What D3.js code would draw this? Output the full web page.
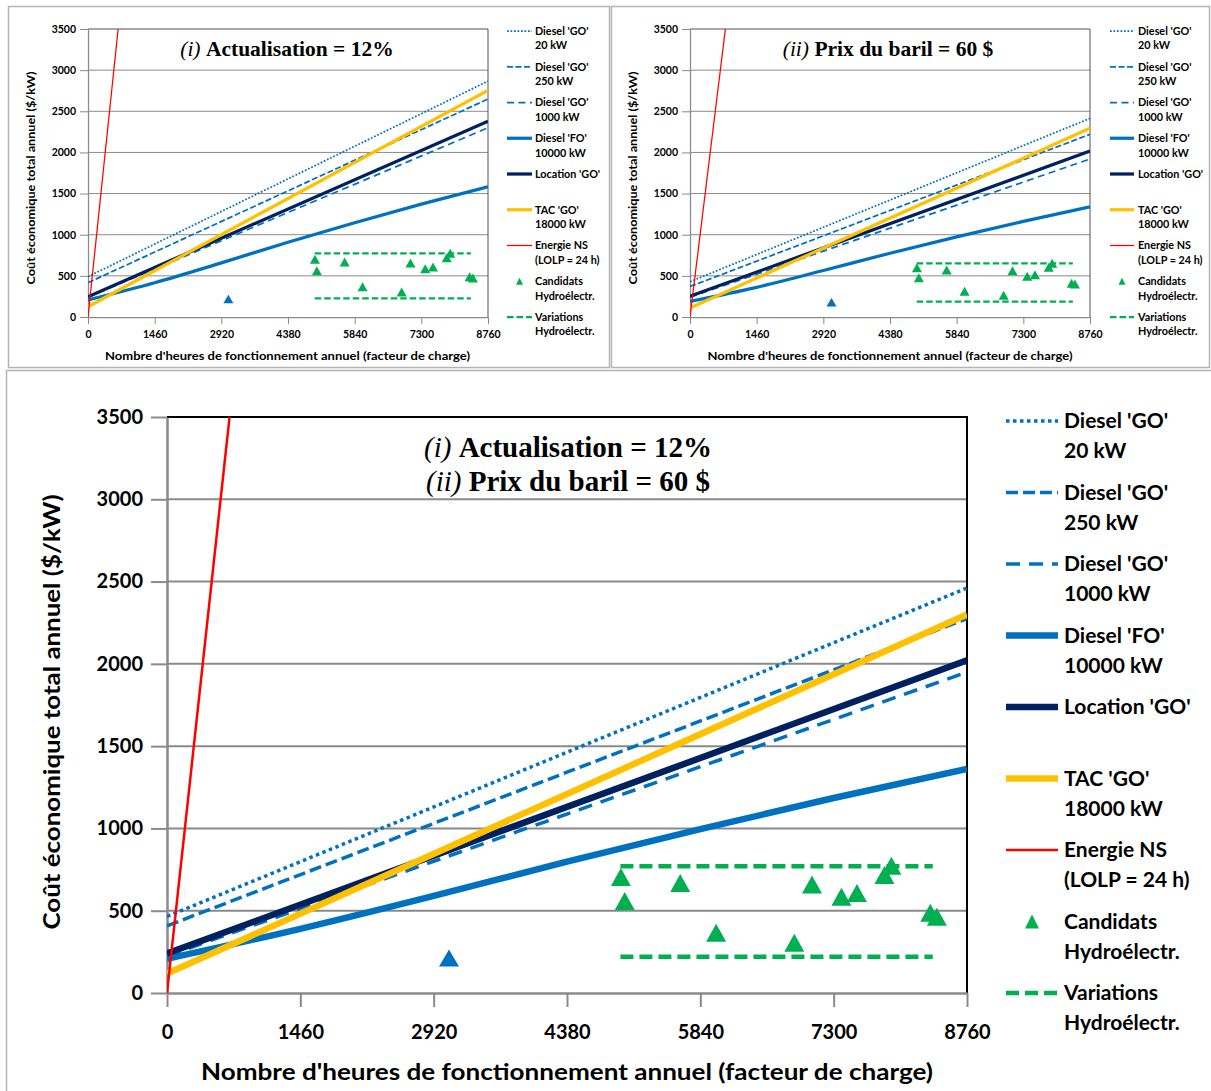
<!DOCTYPE html>
<html><head><meta charset="utf-8">
<script src="https://cdn.jsdelivr.net/npm/d3@7"></script>
<style>body{margin:0;background:#fff}svg{display:block}</style>
</head><body>
<svg id="c" width="1211" height="1091"></svg>
<script>
// ---------- shared categories / ticks ----------
const xTicks = [0, 1460, 2920, 4380, 5840, 7300, 8760];
const yTicks = [0, 500, 1000, 1500, 2000, 2500, 3000, 3500];
const lineHours = [0, 8760];
const legendLabels = [
  ["Diesel 'GO'", "20 kW"], ["Diesel 'GO'", "250 kW"], ["Diesel 'GO'", "1000 kW"],
  ["Diesel 'FO'", "10000 kW"], ["Location 'GO'"], ["TAC 'GO'", "18000 kW"],
  ["Energie NS", "(LOLP = 24 h)"], ["Candidats", "Hydroélectr."], ["Variations", "Hydroélectr."]
];
const xTitle = "Nombre d'heures de fonctionnement annuel (facteur de charge)";
const yTitle = "Coût économique total annuel ($/kW)";
const hydroHours = [4970, 5012, 5620, 6013, 6869, 7063, 7385, 7555, 7856, 7932, 8358, 8430];
const variationHours = [4965, 8385];

// ---------- panel (i) Actualisation = 12% ----------
const iDiesel20 = [490, 2867];
const iDiesel250 = [417, 2649];
const iDiesel1000 = [240, 2300];
const iDieselFO = [207, 416, 658, 909, 1145, 1371, 1583];
const iLocation = [247, 2378];
const iTAC = [125, 2754];
const iEnergieNSHours = [0, 660];
const iEnergieNS = [0, 3500];
const iHydro = [701, 563, 668, 368, 304, 656, 587, 608, 721, 774, 490, 474];
const iVariations = [227, 774];
const iBluePoint = [3074, 219];

// ---------- panel (ii) Prix du baril = 60 $ ----------
const iiDiesel20 = [429, 2414];
const iiDiesel250 = [370, 2220];
const iiDiesel1000 = [240, 1920];
const iiDieselFO = [190, 361, 565, 775, 973, 1162, 1340];
const iiLocation = [252, 2017];
const iiTAC = [110, 2293];
const iiEnergieNSHours = [0, 775];
const iiEnergieNS = [0, 3500];
const iiHydro = [599, 478, 571, 312, 264, 563, 494, 514, 604, 652, 409, 401];
const iiVariations = [186, 652];
const iiBluePoint = [3099, 179];

// ---------- panel (i)+(ii) ----------
const bDiesel20 = [465, 2461];
const bDiesel250 = [408, 2275];
const bDiesel1000 = [225, 1950];
const bDieselFO = [208, 390, 590, 798, 996, 1185, 1362];
const bLocation = [240, 2022];
const bTAC = [118, 2300];
const bEnergieNSHours = [0, 685];
const bEnergieNS = [0, 3500];
const bHydro = [705, 559, 668, 366, 306, 660, 585, 607, 717, 773, 488, 464];
const bVariations = [220, 770];
const bBluePoint = [3088, 213];

const COL = {blue: "#0070C0", navy: "#002060", orange: "#FFC000", red: "#FF0000", green: "#00B050"};

const svg = d3.select("#c");

function drawPanel(P, D) {
  const k = P.k;
  const x = d3.scaleLinear().domain([0, 8760]).range([P.left, P.right]);
  const y = d3.scaleLinear().domain([0, 3500]).range([P.bottom, P.top]);
  const g = svg.append("g");

  // frame
  g.append("rect").attr("x", P.frame[0]).attr("y", P.frame[1]).attr("width", P.frame[2]).attr("height", P.frame[3])
    .attr("fill", "none").attr("stroke", "#b4b4b4").attr("stroke-width", 1.5);

  // gridlines
  g.selectAll(".grid").data(yTicks.filter(t => t > 0 && t < 3500)).join("line")
    .attr("x1", P.left).attr("x2", P.right).attr("y1", d => y(d)).attr("y2", d => y(d))
    .attr("stroke", "#8a8a8a").attr("stroke-width", 2 * k);
  // top & right border
  g.append("path").attr("d", `M${P.left},${P.top}H${P.right}V${P.bottom}`)
    .attr("fill", "none").attr("stroke", P.borderCol).attr("stroke-width", 2 * k);

  // axes
  const fmt = d3.format("d");
  const ya = g.append("g").attr("transform", `translate(${P.left},0)`)
    .call(d3.axisLeft(y).tickValues(yTicks).tickFormat(fmt).tickSize(16 * k).tickPadding(P.yPad).tickSizeOuter(0));
  const xa = g.append("g").attr("transform", `translate(0,${P.bottom})`)
    .call(d3.axisBottom(x).tickValues(xTicks).tickFormat(fmt).tickSize(14 * k).tickPadding(P.xPad).tickSizeOuter(0));
  [ya, xa].forEach(a => {
    a.select(".domain").attr("stroke", "#8a8a8a").attr("stroke-width", 2.5 * k);
    a.selectAll(".tick line").attr("stroke", "#8a8a8a").attr("stroke-width", 2 * k);
    a.selectAll(".tick text").attr("font-family", "Lato, 'Open Sans', sans-serif")
      .attr("font-weight", "bold").attr("font-size", P.tickFont).attr("fill", "#000");
  });

  // axis titles
  g.append("text").attr("x", P.xTitle[0]).attr("y", P.xTitle[1]).attr("dy", "0.35em")
    .attr("text-anchor", "middle").attr("font-family", "Lato, sans-serif").attr("font-weight", "bold")
    .attr("font-size", P.titleFont).attr("textLength", P.xTitle[2]).attr("lengthAdjust", "spacingAndGlyphs")
    .text(xTitle);
  g.append("text").attr("transform", `translate(${P.yTitle[0]},${P.yTitle[1]}) rotate(-90)`).attr("dy", "0.35em")
    .attr("text-anchor", "middle").attr("font-family", "Lato, sans-serif").attr("font-weight", "bold")
    .attr("font-size", P.titleFont).attr("textLength", P.yTitle[2]).attr("lengthAdjust", "spacingAndGlyphs")
    .text(yTitle);

  // chart title(s)
  P.titles.forEach((t, i) => {
    const tx = g.append("text").attr("x", P.titlePos[0]).attr("y", P.titlePos[1] + i * P.titleStep).attr("dy", "0.35em")
      .attr("text-anchor", "middle").attr("font-family", "'Liberation Serif', 'Times New Roman', serif")
      .attr("font-size", P.chartTitleFont).attr("fill", "#000");
    tx.append("tspan").attr("font-style", "italic").text(t[0]);
    tx.append("tspan").attr("font-weight", "bold").text(t[1]);
  });

  // clip
  const cid = "clip" + P.id;
  svg.append("clipPath").attr("id", cid).append("rect")
    .attr("x", P.left).attr("y", P.top).attr("width", P.right - P.left).attr("height", P.bottom - P.top);
  const plot = g.append("g").attr("clip-path", `url(#${cid})`);

  const styles = [
    {c: COL.blue, w: 3.5 * k, dash: `${3.5 * k},${3.5 * k}`},
    {c: COL.blue, w: 3.5 * k, dash: `${12 * k},${5 * k}`},
    {c: COL.blue, w: 3.5 * k, dash: `${14 * k},${9 * k}`},
    {c: COL.blue, w: 6.5 * k, dash: null},
    {c: COL.navy, w: 6.5 * k, dash: null},
    {c: COL.orange, w: 6.5 * k, dash: null},
    {c: COL.red, w: 2.5 * k, dash: null},
    null,
    {c: COL.green, w: 4.5 * k, dash: `${13 * k},${6 * k}`}
  ];

  const line = d3.line().x(d => x(d[0])).y(d => y(d[1]));
  const smooth = d3.line().x(d => x(d[0])).y(d => y(d[1])).curve(d3.curveMonotoneX);
  const lineSeries = [
    d3.zip(lineHours, D.diesel20), d3.zip(lineHours, D.diesel250), d3.zip(lineHours, D.diesel1000),
    d3.zip(xTicks, D.dieselFO), d3.zip(lineHours, D.location), d3.zip(lineHours, D.tac),
    d3.zip(D.nsHours, D.ns)
  ];
  lineSeries.forEach((pts, i) => {
    const s = styles[i];
    plot.append("path").attr("d", i === 3 ? smooth(pts) : line(pts)).attr("fill", "none").attr("stroke", s.c)
      .attr("stroke-width", s.w).attr("stroke-dasharray", s.dash);
  });

  const tri = (w, h) => `M0,${-h / 2}L${w / 2},${h / 2}L${-w / 2},${h / 2}Z`;
  // blue point
  plot.append("path").attr("d", tri(20 * k, 17 * k))
    .attr("transform", `translate(${x(D.blue[0])},${y(D.blue[1])})`).attr("fill", COL.blue);
  // hydro candidates
  plot.selectAll(".hyd").data(d3.zip(hydroHours, D.hydro)).join("path")
    .attr("d", tri(20 * k, 18 * k)).attr("transform", d => `translate(${x(d[0])},${y(d[1])})`)
    .attr("fill", COL.green);
  // variations
  D.variations.forEach(v => {
    plot.append("path").attr("d", line(variationHours.map(h => [h, v]))).attr("fill", "none")
      .attr("stroke", COL.green).attr("stroke-width", styles[8].w).attr("stroke-dasharray", styles[8].dash);
  });

  // legend
  legendLabels.forEach((lab, i) => {
    const yc = P.leg.y0 + i * P.leg.step;
    const s = styles[i];
    if (s) {
      g.append("line").attr("x1", P.leg.x0).attr("x2", P.leg.x1).attr("y1", yc).attr("y2", yc)
        .attr("stroke", s.c).attr("stroke-width", s.w).attr("stroke-dasharray", s.dash);
    } else {
      g.append("path").attr("d", tri(14 * k, 14 * k))
        .attr("transform", `translate(${(P.leg.x0 + P.leg.x1) / 2},${yc})`).attr("fill", COL.green);
    }
    lab.forEach((t, j) => {
      g.append("text").attr("x", P.leg.tx).attr("y", yc + j * P.leg.line2).attr("dy", "0.35em")
        .attr("font-family", "Lato, sans-serif").attr("font-weight", "bold").attr("font-size", P.legFont)
        .text(t);
    });
  });
}

drawPanel({
  id: "i", k: 0.5, left: 88, right: 488, top: 29, bottom: 317, frame: [8.5, 6.5, 601, 361], borderCol: "#505050",
  yPad: 4, xPad: 7, tickFont: 10.5, titleFont: 11.5, xTitle: [287.5, 356, 365], yTitle: [31, 178, 213],
  titles: [["(i) ", "Actualisation = 12%"]], titlePos: [287, 48], titleStep: 0, chartTitleFont: 21.5,
  legFont: 10.8, leg: {x0: 507, x1: 532, tx: 535, y0: 31, step: 35.75, line2: 14.5}
}, {diesel20: iDiesel20, diesel250: iDiesel250, diesel1000: iDiesel1000, dieselFO: iDieselFO, location: iLocation,
    tac: iTAC, nsHours: iEnergieNSHours, ns: iEnergieNS, hydro: iHydro, variations: iVariations, blue: iBluePoint});

drawPanel({
  id: "ii", k: 0.5, left: 690, right: 1090, top: 29, bottom: 317, frame: [611.5, 6.5, 598, 361], borderCol: "#505050",
  yPad: 4, xPad: 7, tickFont: 10.5, titleFont: 11.5, xTitle: [890, 356, 365], yTitle: [633, 178, 213],
  titles: [["(ii) ", "Prix du baril = 60 $"]], titlePos: [888, 48], titleStep: 0, chartTitleFont: 21.5,
  legFont: 10.8, leg: {x0: 1110, x1: 1134, tx: 1138, y0: 31, step: 35.75, line2: 14.5}
}, {diesel20: iiDiesel20, diesel250: iiDiesel250, diesel1000: iiDiesel1000, dieselFO: iiDieselFO, location: iiLocation,
    tac: iiTAC, nsHours: iiEnergieNSHours, ns: iiEnergieNS, hydro: iiHydro, variations: iiVariations, blue: iiBluePoint});

drawPanel({
  id: "b", k: 1, left: 167, right: 967, top: 417, bottom: 993, frame: [6.5, 370.5, 1220, 730], borderCol: "#000",
  yPad: 8, xPad: 18, tickFont: 20, titleFont: 23, xTitle: [567, 1072, 732], yTitle: [52, 712, 435],
  titles: [["(i) ", "Actualisation = 12%"], ["(ii) ", "Prix du baril = 60 $"]], titlePos: [568, 447], titleStep: 34,
  chartTitleFont: 29,
  legFont: 21, leg: {x0: 1006, x1: 1058, tx: 1064, y0: 421, step: 71.5, line2: 30}
}, {diesel20: bDiesel20, diesel250: bDiesel250, diesel1000: bDiesel1000, dieselFO: bDieselFO, location: bLocation,
    tac: bTAC, nsHours: bEnergieNSHours, ns: bEnergieNS, hydro: bHydro, variations: bVariations, blue: bBluePoint});
</script>
</body></html>
